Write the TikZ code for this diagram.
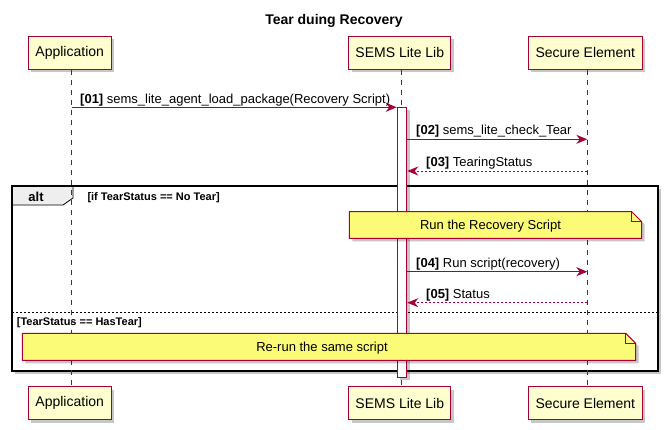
\documentclass[tikz,border=0pt]{standalone}
\usepackage{fontspec}
\setmainfont{Liberation Sans}
\usetikzlibrary{arrows.meta,shadows,calc}
\definecolor{pborder}{HTML}{A80036}
\definecolor{pfill}{HTML}{FEFECE}
\definecolor{nfill}{HTML}{FBFB77}
\definecolor{tabfill}{HTML}{EEEEEE}
\begin{document}
\begin{tikzpicture}[x=1pt,y=-1pt,
  shd/.style={drop shadow={shadow xshift=3pt,shadow yshift=-3pt,fill=black,opacity=.22}},
  participant/.style={draw=pborder,fill=pfill,line width=1pt,minimum height=33pt,inner sep=0pt,font=\fontsize{14}{16}\selectfont,shd},
  lifeline/.style={draw=pborder,dash pattern=on 5pt off 5pt,line width=0.8pt},
  msg/.style={draw=pborder,line width=1pt,-{Stealth[length=11pt,width=9pt,inset=3.5pt]}},
  ret/.style={msg,dash pattern=on 2pt off 2pt},
  lbl/.style={anchor=base west,inner sep=0pt,font=\fontsize{13}{15}\selectfont},
  notebox/.style={fill=nfill,draw=pborder,line width=1pt,shd},
  notetext/.style={inner sep=0pt,font=\fontsize{13}{15}\selectfont},
  guard/.style={anchor=base west,inner sep=0pt,font=\fontsize{11}{13}\selectfont\bfseries},
  actbox/.style={draw=pborder,fill=white,line width=1pt,minimum width=9.5pt,inner sep=0pt,shd}
]
\useasboundingbox (0,0) rectangle (667,429);

% title
\node[font=\fontsize{14}{16}\selectfont\bfseries,inner sep=0pt] (title) at (334,21) {Tear duing Recovery};

% alt frame
\path[shd,fill=white,draw=black,line width=1.6pt] (12,186) rectangle (658,371);
\draw[fill=tabfill,draw=black,line width=0.8pt] (12,186) -- (73,186) -- (73,198) -- (63,205) -- (12,205) -- cycle;
\draw[line width=1.6pt] (12,186) rectangle (658,371);
\node[font=\fontsize{13}{15}\selectfont\bfseries,anchor=base,inner sep=0pt] (altlbl) at (36,201.5) {alt};
\node[guard] (g1) at (87.3,200.7) {[if TearStatus == No Tear]};
\draw[dash pattern=on 2pt off 2pt,line width=0.8pt] (12,312.7) -- (658,312.7);
\node[guard] (g2) at (16.7,325) {[TearStatus == HasTear]};

% participants
\node[participant,minimum width=83pt] (appTop) at (69.7,52.5) {Application};
\node[participant,minimum width=102pt] (libTop) at (399.8,52.5) {SEMS Lite Lib};
\node[participant,minimum width=114pt] (seTop) at (585.3,52.5) {Secure Element};
\node[participant,minimum width=83pt] (appBot) at (69.7,403) {Application};
\node[participant,minimum width=102pt] (libBot) at (399.8,403) {SEMS Lite Lib};
\node[participant,minimum width=114pt] (seBot) at (585.3,403) {Secure Element};

\coordinate (aT) at ([xshift=2pt]appTop.south);
\coordinate (aB) at ([xshift=2pt]appBot.north);
\coordinate (lT) at ([xshift=2pt]libTop.south);
\coordinate (lB) at ([xshift=2pt]libBot.north);
\coordinate (sT) at ([xshift=2pt]seTop.south);
\coordinate (sB) at ([xshift=2pt]seBot.north);
\draw[lifeline] (aT) -- (aB);
\draw[lifeline] (lT) -- (lB);
\draw[lifeline] (sT) -- (sB);

% activation
\node[actbox,minimum height=270pt] (act) at (402,242) {};

% messages
\draw[msg] (aT |- 0,107.3) -- (act.west |- 0,107.3);
\node[lbl] (m1) at (80,103) {\textbf{[01]} sems\_lite\_agent\_load\_package(Recovery Script)};
\draw[msg] (act.east |- 0,139.3) -- (sT |- 0,139.3);
\node[lbl] (m2) at (416,134.8) {\textbf{[02]} sems\_lite\_check\_Tear};
\draw[ret] (sT |- 0,171) -- (act.east |- 0,171);
\node[lbl] (m3) at (426,166.5) {\textbf{[03]} TearingStatus};
\draw[msg] (act.east |- 0,271.7) -- (sT |- 0,271.7);
\node[lbl] (m4) at (416,267.2) {\textbf{[04]} Run script(recovery)};
\draw[ret] (sT |- 0,302.7) -- (act.east |- 0,302.7);
\node[lbl] (m5) at (426,298.2) {\textbf{[05]} Status};

% notes
\path[notebox] (349.3,211.7) -- (631.7,211.7) -- (641.7,221.7) -- (641.7,238.3) -- (349.3,238.3) -- cycle;
\draw[pborder,line width=0.8pt] (631.7,211.7) -- (631.7,221.7) -- (641.7,221.7);
\node[notetext] (n1) at (490.5,226.5) {Run the Recovery Script};

\path[notebox] (22.3,333.3) -- (625.7,333.3) -- (635.7,343.3) -- (635.7,360.3) -- (22.3,360.3) -- cycle;
\draw[pborder,line width=0.8pt] (625.7,333.3) -- (625.7,343.3) -- (635.7,343.3);
\node[notetext] (n2) at (322,348) {Re-run the same script};
\end{tikzpicture}
\end{document}
